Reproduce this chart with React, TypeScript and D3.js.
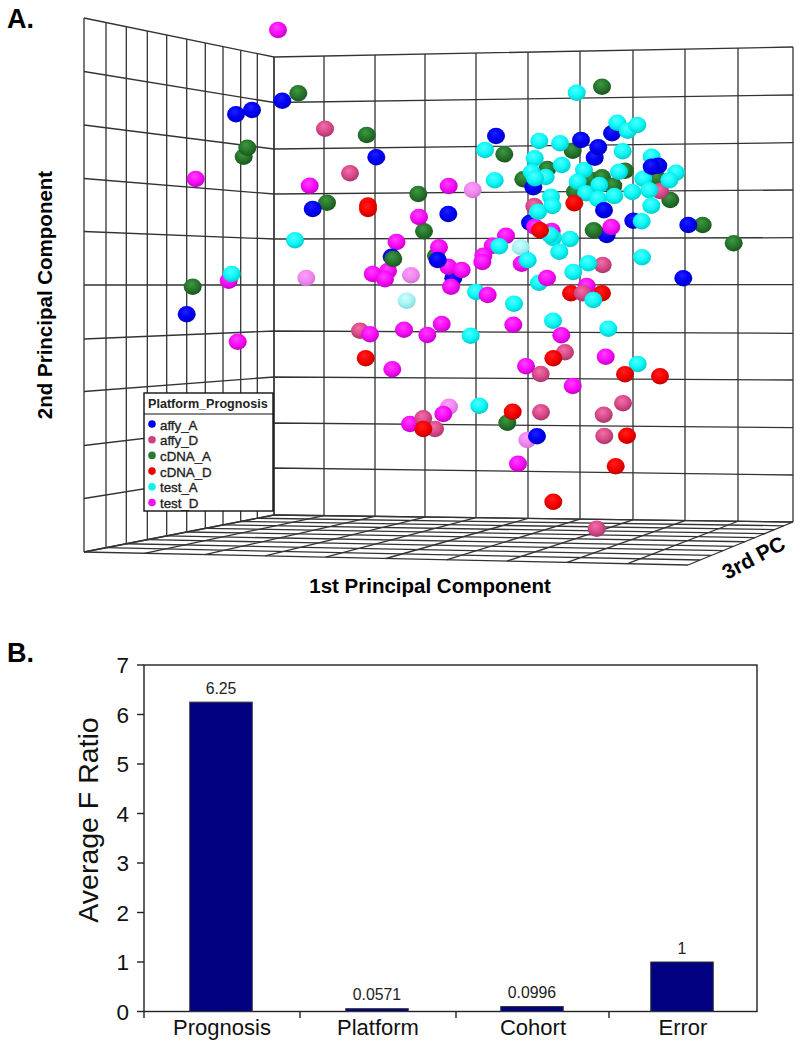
import React from 'react'
import * as d3 from 'd3'

type Pt = [number, number, number?]

// panel A: points, [1st PC, 2nd PC, optional draw depth]
const affyA: Pt[] = [
  [236, 114.3], [252, 110], [282.3, 100.7], [376.3, 157.3], [312.7, 209], [391.7, 256.7], [186.7, 314.3],
  [612, 133.3, 3], [496, 136], [581, 140], [598.3, 147.3, 4.6], [594.7, 157.7], [658.3, 165.7], [651.7, 166.7, 4.6],
  [533.3, 187.3, 3], [604, 210.3], [633.3, 220.7, 3], [688.3, 225], [530, 222.7, 2.5], [606.7, 235, 1], [448.3, 214],
  [437.7, 260], [683.3, 278.3], [453.3, 278.3, 2.5], [537, 436.3],
]
const affyD: Pt[] = [
  [325, 128.7], [350, 173.3], [360, 330.7], [423.3, 418.3, 3.5], [435, 429], [534.3, 206], [660, 191],
  [602.7, 265], [582.7, 293.3, 5.5], [565, 352.3], [540.7, 374], [541, 412.3], [623, 403.3], [603.7, 414.7],
  [604.3, 436], [596.7, 528.7],
]
const cdnaA: Pt[] = [
  [298.3, 93.3], [366.7, 135], [243.7, 156.7], [247.3, 147.7], [327, 202.7], [393.3, 259, 5], [192.7, 286.7],
  [602, 86.7], [572.7, 150.7], [504.3, 154.3], [547.3, 169], [523.3, 179.3], [625, 170.7], [657.3, 178.3],
  [591.7, 180], [602, 177.3], [613.3, 185.7], [575, 191.7], [670.3, 200], [702.7, 225], [733.7, 243.3],
  [593.7, 230.3], [418.3, 194], [424, 231.3], [436, 256], [507.3, 422.7],
]
const cdnaD: Pt[] = [
  [368, 205.5], [368, 209], [365.7, 358.3], [423.3, 429], [574.3, 203.3], [540, 230.3], [571, 293.3], [602, 293.3],
  [553.3, 358.3], [625, 374.3], [660, 376.3], [512.7, 411.7], [627, 435.7], [615.7, 466.3], [553.3, 501.7],
]
const testA: Pt[] = [
  [295, 240.3], [231.7, 274], [576.7, 92.7], [617.3, 122.7], [627.7, 130.7], [637.3, 125], [539.3, 141], [560, 143.3],
  [622.7, 151.3], [485, 150], [534.7, 158.3], [561.7, 165], [545.7, 177], [531.7, 172.3], [535, 178.3], [494.7, 180.3],
  [584, 170], [619, 171.7], [651.7, 156.7], [676, 172.7], [643.3, 178.7], [669.3, 180.3], [577.7, 181.7], [586, 193.3],
  [599.3, 185], [598, 199], [614.3, 196], [632.3, 192], [649.3, 190.3], [651.3, 205.7], [551, 196.7], [552.3, 206],
  [538, 211.7], [641.7, 221.3], [553, 238], [550, 235], [570, 239], [559.3, 251.7], [499.3, 246.3], [527.7, 260.3],
  [642, 257.3], [588.3, 263.3], [573.3, 272], [539, 282.7], [593.3, 300, 6], [476, 292], [514, 303.7], [553, 320.7],
  [608.3, 328.7], [470.7, 335.7], [637.7, 364], [479.3, 405.7],
]
const testD: Pt[] = [
  [278, 30], [195.7, 179], [309.7, 185.7], [228.7, 280.7], [396.5, 242], [372.7, 274], [388, 271], [385, 279.3],
  [237.7, 341.7], [370, 334.3], [404, 329.7], [427.3, 335], [441.7, 324], [392.3, 369.3], [443.3, 414],
  [410, 424, 2], [535, 226.7], [551.7, 231], [611.3, 227], [448.7, 186], [419, 217], [506, 235.7], [492.7, 245.7],
  [521.7, 263.7], [483.3, 255.7], [482.3, 262], [439, 247.3], [448.3, 266.7], [461.7, 270],
  [547, 278, 4.2], [451, 286.7], [586.7, 286], [487.7, 295, 4.2], [513.3, 324.7], [561.3, 335.3], [526, 366.3],
  [605.7, 356.7], [572.7, 386], [518, 463.7],
]
// the few washed-out spheres in the picture
const fadedD: Pt[] = [[306.3, 278], [472.7, 190], [411, 275.3], [449, 406.7], [527.3, 440]]
const fadedA: Pt[] = [[406.7, 300.7], [520.7, 247.3]]

const legendNames = ['affy_A', 'affy_D', 'cDNA_A', 'cDNA_D', 'test_A', 'test_D']
const legendColors = ['#0000e8', '#d0407f', '#2a7a30', '#f00000', '#10f0f0', '#f010f0']

// panel B
const factors = ['Prognosis', 'Platform', 'Cohort', 'Error']
const fRatios = [6.25, 0.0571, 0.0996, 1]
const fLabels = ['6.25', '0.0571', '0.0996', '1']
const fTicks = [0, 1, 2, 3, 4, 5, 6, 7]

// sphere shading: id, centre, mid, edge
const shades: [string, string, string, string][] = [
  ['affyA', '#2020ff', '#0000f4', '#0000b8'],
  ['affyD', '#f070ac', '#da4a88', '#a0346a'],
  ['cdnaA', '#3c9a40', '#27752c', '#17521d'],
  ['cdnaD', '#ff2020', '#f60000', '#b80000'],
  ['testA', '#50ffff', '#0cf8f8', '#00c4c4'],
  ['testD', '#ff40ff', '#fa0cfa', '#bc00bc'],
  ['fadedD', '#ffa0ff', '#f088f0', '#d070d0'],
  ['fadedA', '#d0ffff', '#a8f4f4', '#80d8d8'],
]

const seriesList: [string, Pt[], number][] = [
  ['fadedD', fadedD, 0],
  ['fadedA', fadedA, 0],
  ['cdnaA', cdnaA, 2],
  ['affyD', affyD, 2.5],
  ['testD', testD, 3],
  ['testA', testA, 4],
  ['affyA', affyA, 4.5],
  ['cdnaD', cdnaD, 5],
]

const font = '"Liberation Sans", Arial, sans-serif'
const gridColor = '#333'

// projected box corners and grid positions
const leftWallX = [84, 106, 126.3, 147.3, 166.7, 186.7, 205.3, 223, 240.7, 257.3, 274]
const backWallX = [274, 324, 375, 425, 476, 528, 580, 633, 685, 738, 793]
const leftEdgeY = [18, 71.5, 125, 178.5, 231.5, 285, 339, 391.5, 445.5, 498.5, 552]
const cornerY = [57, 102.5, 149, 194, 239, 285, 331, 377, 423, 468, 515]
const rightEdgeY = [47, 95, 142.7, 190, 237.7, 284.7, 333.3, 380, 427.7, 475, 522]
const frontLeft = [84, 552]
const frontRight = [688, 565]

const xProj = d3.scaleLinear().domain([84, 793]).range([84, 793])
const yProj = d3.scaleLinear().domain([18, 565]).range([18, 565])

const path = d3.line<number[]>().x(d => d[0]).y(d => d[1])

function buildGrid(): number[][][] {
  const lines: number[][][] = []
  const n = leftEdgeY.length - 1
  const topLeft = d3.scaleLinear().domain([84, 274]).range([leftEdgeY[0], cornerY[0]])
  const botLeft = d3.scaleLinear().domain([84, 274]).range([leftEdgeY[n], cornerY[n]])
  const topBack = d3.scaleLinear().domain([274, 793]).range([cornerY[0], rightEdgeY[0]])
  const botBack = d3.scaleLinear().domain([274, 793]).range([cornerY[n], rightEdgeY[n]])
  const frontX = d3.scaleLinear().domain([0, n]).range([frontLeft[0], frontRight[0]])
  const frontY = d3.scaleLinear().domain([0, n]).range([frontLeft[1], frontRight[1]])
  // wall rows
  leftEdgeY.forEach((yL, i) => {
    lines.push([[leftWallX[0], yL], [backWallX[0], cornerY[i]], [backWallX[n], rightEdgeY[i]]])
  })
  // left wall columns
  leftWallX.forEach(x => {
    lines.push([[x, topLeft(x)], [x, botLeft(x)]])
  })
  // back wall columns and the floor lines running out of them
  backWallX.forEach((x, i) => {
    lines.push([[x, topBack(x)], [x, botBack(x)]])
    lines.push([[x, botBack(x)], [frontX(i), frontY(i)]])
  })
  // floor rows, same spacing as the left wall columns
  const sideX = d3.scaleLinear().domain([274, 84]).range([backWallX[n], frontRight[0]])
  const sideY = d3.scaleLinear().domain([274, 84]).range([rightEdgeY[n], frontRight[1]])
  leftWallX.forEach(x => {
    lines.push([[x, botLeft(x)], [sideX(x), sideY(x)]])
  })
  return lines
}

export default function App() {
  const gridLines = buildGrid()

  const spheres = seriesList
    .flatMap(([id, pts, z]) => pts.map(p => ({ id, x: p[0], y: p[1], z: p[2] ?? z })))
    .map((d, i) => ({ ...d, i }))
    .sort((a, b) => d3.ascending(a.z, b.z) || d3.ascending(a.i, b.i))

  // panel B scales
  const y = d3.scaleLinear().domain([0, 7]).range([1011.5, 665])
  const x = d3.scaleOrdinal<string, number>().domain(factors).range([221, 377, 532, 682])
  const barW = 62.5
  const catTicks = [300, 456, 609]

  return (
    <svg width={800} height={1047} style={{ position: 'absolute', left: 0, top: 0, background: '#fff' }} fontFamily={font}>
      <defs>
        {shades.map(([id, c0, c1, c2]) => (
          <radialGradient key={id} id={id} cx="0.45" cy="0.4" r="0.64" fx="0.42" fy="0.32">
            <stop offset="0%" stopColor={c0} />
            <stop offset="55%" stopColor={c1} />
            <stop offset="100%" stopColor={c2} />
          </radialGradient>
        ))}
      </defs>

      <text x={7} y={28} fontSize={27} fontWeight="bold">A.</text>
      <text x={7} y={662} fontSize={27} fontWeight="bold">B.</text>

      <g fill="none" stroke={gridColor} strokeWidth={1.3}>
        {gridLines.map((l, i) => <path key={i} d={path(l) as string} />)}
      </g>

      {spheres.map(d => (
        <ellipse key={d.i} cx={xProj(d.x)} cy={yProj(d.y)} rx={9} ry={8.2} fill={`url(#${d.id})`} />
      ))}

      <g>
        <rect x={144} y={393} width={129} height={118} fill="#fff" stroke="#111" strokeWidth={1.4} />
        <line x1={144} x2={273} y1={414} y2={414} stroke="#111" strokeWidth={1.2} />
        <text x={148} y={408} fontSize={12.6} fontWeight="bold" fill="#222">Platform_Prognosis</text>
        {legendNames.map((name, i) => {
          const ly = 425 + i * 15.7
          return (
            <g key={name}>
              <circle cx={152} cy={ly - 1} r={3.8} fill={legendColors[i]} />
              <text x={160} y={ly + 4.5} fontSize={13.3} fill="#222" stroke="#222" strokeWidth={0.35}>{name}</text>
            </g>
          )
        })}
      </g>

      <text transform="translate(52,295) rotate(-90)" textAnchor="middle" fontSize={20.5} fontWeight="bold">2nd Principal Component</text>
      <text x={430} y={593} textAnchor="middle" fontSize={20.5} fontWeight="bold">1st Principal Component</text>
      <text transform="translate(757,564) rotate(-28)" textAnchor="middle" fontSize={21} fontWeight="bold">3rd PC</text>

      {/* panel B */}
      <rect x={144} y={665} width={613} height={346.5} fill="none" stroke="#222" strokeWidth={1.4} />
      {factors.map((f, i) => (
        <g key={f}>
          <rect
            x={(x(f) as number) - barW / 2}
            y={y(fRatios[i])}
            width={barW}
            height={y(0) - y(fRatios[i])}
            fill="#000080"
            stroke="#333"
            strokeWidth={1}
          />
          <text x={x(f)} y={y(fRatios[i]) - 8.5} textAnchor="middle" fontSize={15.8} fill="#222">{fLabels[i]}</text>
          <text x={(x(f) as number) + 1} y={1035} textAnchor="middle" fontSize={22} fill="#111">{f}</text>
        </g>
      ))}
      {fTicks.map(t => (
        <g key={t}>
          <line x1={137} x2={144} y1={y(t)} y2={y(t)} stroke="#222" strokeWidth={1.4} />
          <text x={129} y={y(t) + 8} textAnchor="end" fontSize={22.5} fill="#111">{t}</text>
        </g>
      ))}
      <line x1={144} x2={144} y1={1011} y2={1018} stroke="#222" strokeWidth={1.4} />
      {catTicks.map(t => (
        <line key={t} x1={t} x2={t} y1={1011} y2={1018} stroke="#222" strokeWidth={1.4} />
      ))}
      <text transform="translate(98,820) rotate(-90)" textAnchor="middle" fontSize={28.5} fill="#111">Average F Ratio</text>
    </svg>
  )
}
